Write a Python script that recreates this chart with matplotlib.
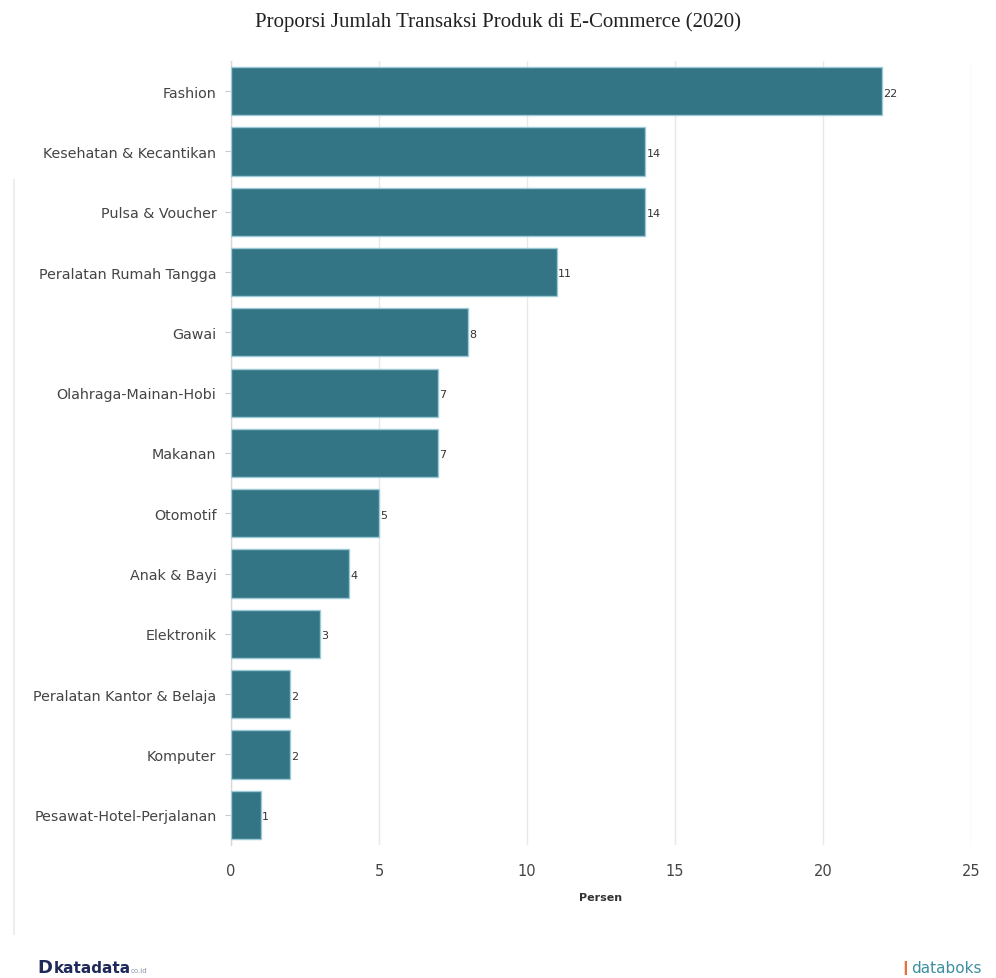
import matplotlib.pyplot as plt
from matplotlib.lines import Line2D

categories = [
    "Fashion", "Kesehatan & Kecantikan", "Pulsa & Voucher",
    "Peralatan Rumah Tangga", "Gawai", "Olahraga-Mainan-Hobi", "Makanan",
    "Otomotif", "Anak & Bayi", "Elektronik", "Peralatan Kantor & Belaja",
    "Komputer", "Pesawat-Hotel-Perjalanan",
]
values = [22, 14, 14, 11, 8, 7, 7, 5, 4, 3, 2, 2, 1]
x_ticks = [0, 5, 10, 15, 20, 25]

bar_color = "#337485"
edge_color = "#9ccbd6"

fig = plt.figure(figsize=(9.96, 9.79), dpi=100)
ax = fig.add_axes([0.2319, 0.1359, 0.743, 0.8008])

pos = list(range(len(categories)))
ax.barh(pos, values, height=0.8, color=bar_color, edgecolor=edge_color, linewidth=1, zorder=3)
for p, v in zip(pos, values):
    ax.annotate(str(v), (v, p), xytext=(1, -1), textcoords="offset points",
                ha="left", va="center", fontsize=8, color="#333333")

ax.set_ylim(len(categories) - 0.5, -0.5)
ax.set_xlim(0, 25)
ax.set_yticks(pos)
ax.set_yticklabels(categories, fontsize=10.3, color="#444444")
ax.set_xticks(x_ticks)
ax.set_xticklabels([str(t) for t in x_ticks], fontsize=10.5, color="#444444")
ax.tick_params(axis="y", length=4.5, width=0.8, color="#cccccc", pad=6)
ax.tick_params(axis="x", length=0, pad=13)
ax.set_xlabel("Persen", fontsize=8, fontweight="bold", color="#333333", labelpad=10)

ax.grid(axis="x", color="#e8e8e8", linewidth=1, zorder=0)
for s in ["top", "right", "bottom"]:
    ax.spines[s].set_visible(False)
ax.spines["left"].set_color("#d9d9d9")
ax.spines["left"].set_linewidth(1)

fig.text(0.5, 0.977, "Proporsi Jumlah Transaksi Produk di E-Commerce (2020)",
         ha="center", va="center", fontsize=15, family="Liberation Serif", color="#222222")

# faint frame line at the left edge
fig.add_artist(Line2D([0.014, 0.014], [0.045, 0.815], color="#eeeeee", linewidth=1.5))

# logos
fig.text(0.038, 0.011, "D", ha="left", va="center", fontsize=13, fontweight="bold", color="#1f2a5a")
fig.text(0.054, 0.011, "katadata", ha="left", va="center", fontsize=11, fontweight="bold", color="#1f2a5a")
fig.text(0.131, 0.008, "co.id", ha="left", va="center", fontsize=5, color="#8a8fa8")
fig.text(0.903, 0.011, "\u2759", ha="left", va="center", fontsize=10, color="#e8703a")
fig.text(0.915, 0.011, "databoks", ha="left", va="center", fontsize=11, color="#3c8fa0")

fig.savefig("out.png", dpi=100)
